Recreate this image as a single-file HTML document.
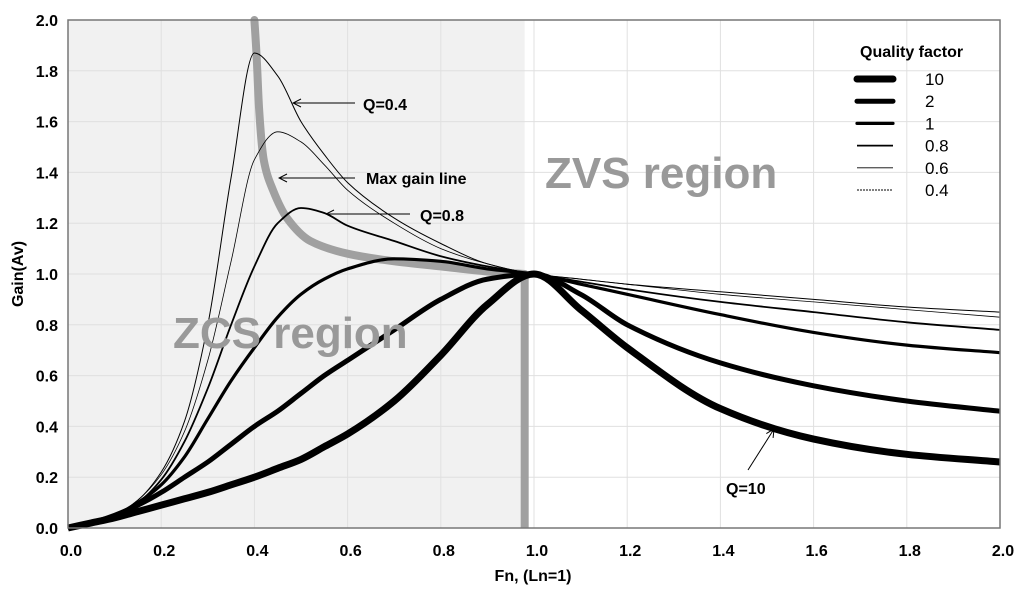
<!DOCTYPE html>
<html><head><meta charset="utf-8"><style>
body{margin:0;background:#fff}
svg{display:block;font-family:"Liberation Sans",sans-serif}
</style></head><body>
<svg id="chart" width="1024" height="589">
<g id="bg"></g><g id="grid"></g><g id="marks"></g><g id="axes"></g><g id="ann"></g>
</svg>
<script>
const xs = [0,0.05,0.1,0.15,0.2,0.25,0.3,0.35,0.4,0.45,0.5,0.55,0.6,0.7,0.8,0.9,1.0,1.1,1.2,1.4,1.6,1.8,2.0];
const seriesNames = ["10","2","1","0.8","0.6","0.4"];
const q10 = [0,0.02,0.04,0.065,0.09,0.115,0.14,0.17,0.2,0.235,0.27,0.32,0.37,0.5,0.68,0.88,1.0,0.86,0.71,0.47,0.35,0.29,0.26];
const q2  = [0,0.02,0.05,0.09,0.14,0.2,0.26,0.33,0.4,0.46,0.53,0.6,0.66,0.78,0.9,0.98,1.0,0.92,0.8,0.65,0.56,0.5,0.46];
const q1  = [0,0.02,0.05,0.1,0.17,0.28,0.43,0.58,0.71,0.83,0.92,0.98,1.02,1.06,1.05,1.02,1.0,0.96,0.92,0.84,0.77,0.72,0.69];
const q08 = [0,0.02,0.05,0.1,0.19,0.34,0.55,0.8,1.03,1.2,1.26,1.24,1.19,1.13,1.07,1.03,1.0,0.97,0.94,0.89,0.85,0.81,0.78];
const q06 = [0,0.02,0.05,0.11,0.21,0.38,0.66,1.05,1.45,1.56,1.52,1.43,1.33,1.2,1.1,1.04,1.0,0.98,0.96,0.92,0.89,0.86,0.83];
const q04 = [0,0.02,0.05,0.11,0.22,0.42,0.8,1.38,1.87,1.78,1.6,1.47,1.36,1.22,1.12,1.04,1.0,0.98,0.96,0.93,0.9,0.87,0.85];
const widths = [7,5,3.2,1.8,0.8,1];
const maxX = [0.4,0.405,0.41,0.42,0.44,0.47,0.52,0.6,0.7,0.8,0.9,0.98];
const maxY = [2.0,1.85,1.65,1.45,1.33,1.22,1.13,1.08,1.05,1.03,1.01,1.0];
const xTicks = [0,0.2,0.4,0.6,0.8,1.0,1.2,1.4,1.6,1.8,2.0];
const yTicks = [0,0.2,0.4,0.6,0.8,1.0,1.2,1.4,1.6,1.8,2.0];
const zcsEdge = 0.98;

const X0=68,X1=1000,Y0=528,Y1=20;
const sx=v=>X0+(X1-X0)*v/2, sy=v=>Y0-(Y0-Y1)*v/2;
const NS="http://www.w3.org/2000/svg";
function mk(tag,attrs,parent){const e=document.createElementNS(NS,tag);for(const k in attrs)e.setAttribute(k,attrs[k]);document.getElementById(parent).appendChild(e);return e;}
function smooth(px,py){
  const n=px.length,d=[],m=[];
  for(let i=0;i<n-1;i++)d.push((py[i+1]-py[i])/(px[i+1]-px[i]));
  m[0]=d[0];m[n-1]=d[n-2];
  for(let i=1;i<n-1;i++){ if(d[i-1]*d[i]<=0)m[i]=0; else { const h0=px[i]-px[i-1],h1=px[i+1]-px[i],w1=2*h1+h0,w2=h1+2*h0; m[i]=(w1+w2)/(w1/d[i-1]+w2/d[i]); } }
  let s="M"+px[0].toFixed(1)+","+py[0].toFixed(1);
  for(let i=0;i<n-1;i++){const h=(px[i+1]-px[i])/3;
    s+=" C"+(px[i]+h).toFixed(1)+","+(py[i]+m[i]*h).toFixed(1)+" "+(px[i+1]-h).toFixed(1)+","+(py[i+1]-m[i+1]*h).toFixed(1)+" "+px[i+1].toFixed(1)+","+py[i+1].toFixed(1);}
  return s;}

let r=mk("rect",{x:X0,y:Y1,width:X1-X0,height:Y0-Y1,fill:"#fff"},"bg");


r=mk("rect",{x:X0,y:Y1,width:sx(zcsEdge)-X0,height:Y0-Y1,fill:"#f1f1f1"},"bg");


xTicks.forEach(t=>{let l=mk("line",{x1:sx(t),x2:sx(t),y1:Y1,y2:Y0,stroke:"#e0e0e0","stroke-width":1},"grid");


let tx=mk("text",{x:sx(t)+3,y:556,"text-anchor":"middle","font-size":16,"font-weight":"bold"},"axes");tx.textContent=t.toFixed(1);

});
yTicks.forEach(t=>{let l=mk("line",{x1:X0,x2:X1,y1:sy(t),y2:sy(t),stroke:"#e0e0e0","stroke-width":1},"grid");


let tx=mk("text",{x:58,y:sy(t)+6,"text-anchor":"end","font-size":16,"font-weight":"bold"},"axes");tx.textContent=t.toFixed(1);

});
let fr=mk("rect",{x:X0,y:Y1,width:X1-X0,height:Y0-Y1,fill:"none",stroke:"#777","stroke-width":1.5},"axes");



let mg=mk("path",{d:smooth(maxX.map(sx),maxY.map(sy)),fill:"none",stroke:"#a0a0a0","stroke-width":8,"stroke-linecap":"round"},"marks");


let vb=mk("line",{x1:sx(zcsEdge),x2:sx(zcsEdge),y1:sy(1),y2:Y0,stroke:"#a0a0a0","stroke-width":8},"marks");



const all=[q10,q2,q1,q08,q06,q04];
all.forEach((s,i)=>{let p=mk("path",{d:smooth(xs.map(sx),s.map(sy)),fill:"none",stroke:"#000","stroke-width":widths[i],"stroke-linejoin":"round"},"marks");


let ly=79+i*22.2;
let ll=mk("line",{x1:857,x2:893,y1:ly,y2:ly,stroke:"#000","stroke-width":widths[i],"stroke-linecap":i<3?"round":"butt","stroke-dasharray":i==5?"2,1":"none"},"ann");


let lt=mk("text",{x:925,y:ly+6,"font-size":17},"ann");lt.textContent=seriesNames[i];

});
</script>
<svg width="1024" height="589" style="position:absolute;left:0;top:0;font-family:'Liberation Sans',sans-serif">
<defs><marker id="ar" markerWidth="10" markerHeight="10" refX="9" refY="5" orient="auto" markerUnits="userSpaceOnUse"><path d="M1,1 L9,5 L1,9" fill="none" stroke="#000" stroke-width="1"/></marker></defs>
<text x="860" y="57" font-size="16" font-weight="bold">Quality factor</text>
<text x="545" y="188" font-size="44" font-weight="bold" fill="#999">ZVS region</text>
<text x="173" y="348" font-size="44" font-weight="bold" fill="#999">ZCS region</text>
<line x1="355" y1="103" x2="293" y2="103" stroke="#000" marker-end="url(#ar)"/>
<text x="363" y="110" font-size="16" font-weight="bold">Q=0.4</text>
<line x1="355" y1="178" x2="279" y2="178" stroke="#000" marker-end="url(#ar)"/>
<text x="366" y="184" font-size="16" font-weight="bold">Max gain line</text>
<line x1="410" y1="214" x2="326" y2="214" stroke="#000" marker-end="url(#ar)"/>
<text x="420" y="221" font-size="16" font-weight="bold">Q=0.8</text>
<line x1="748" y1="470" x2="774" y2="429" stroke="#000" marker-end="url(#ar)"/>
<text x="726" y="494" font-size="16" font-weight="bold">Q=10</text>
<text x="533" y="581" font-size="16" font-weight="bold" text-anchor="middle">Fn, (Ln=1)</text>
<text transform="translate(23,274) rotate(-90)" font-size="16" font-weight="bold" text-anchor="middle">Gain(Av)</text>
</svg>
</body></html>
